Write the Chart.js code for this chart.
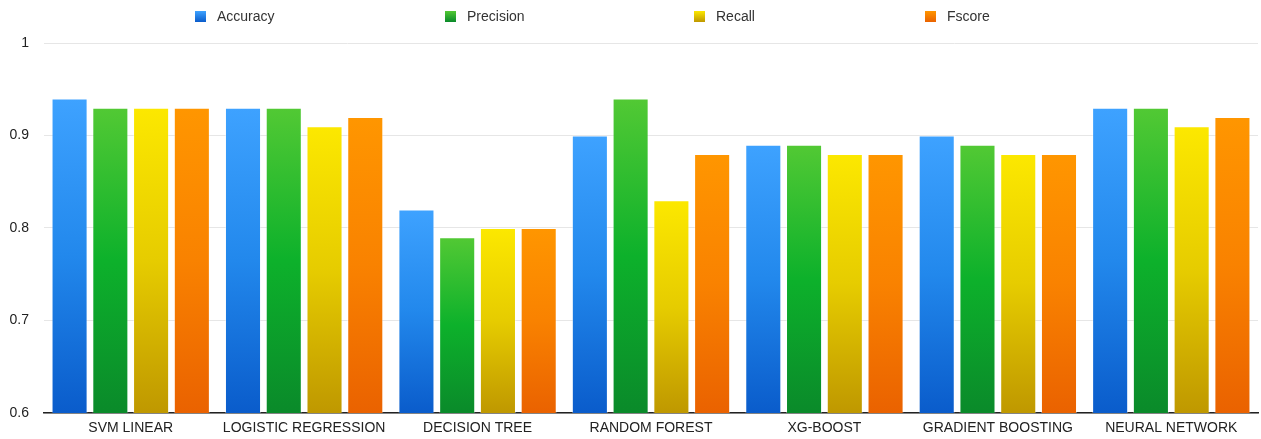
<!DOCTYPE html>
<html>
<head>
<meta charset="utf-8">
<script src="https://cdn.jsdelivr.net/npm/chart.js@4/dist/chart.umd.min.js"></script>
<style>
  html, body { margin: 0; padding: 0; background: #fff; }
  #wrap { width: 1261px; height: 439px; position: relative; }
</style>
</head>
<body>
<div id="wrap"><canvas id="c" width="1261" height="439"></canvas></div>
<script>
// Model comparison: four scores per classifier
const models = ['SVM LINEAR', 'LOGISTIC REGRESSION', 'DECISION TREE', 'RANDOM FOREST', 'XG-BOOST', 'GRADIENT BOOSTING', 'NEURAL NETWORK'];
const accuracy  = [0.94, 0.93, 0.82, 0.90, 0.89, 0.90, 0.93];
const precision = [0.93, 0.93, 0.79, 0.94, 0.89, 0.89, 0.93];
const recall    = [0.93, 0.91, 0.80, 0.83, 0.88, 0.88, 0.91];
const fscore    = [0.93, 0.92, 0.80, 0.88, 0.88, 0.88, 0.92];
const yTicks = [0.6, 0.7, 0.8, 0.9, 1];

// top / middle / bottom shades for each series
const palette = {
  Accuracy:  ['#3ea2ff', '#2288ec', '#0a5ccb'],
  Precision: ['#52c934', '#0db12b', '#0a8a2a'],
  Recall:    ['#fce800', '#e6cc00', '#bf9800'],
  Fscore:    ['#ff9600', '#f98200', '#ea6200']
};

function barGradient(name) {
  const stops = palette[name];
  return function (ctx) {
    const chart = ctx.chart;
    const y = chart.scales && chart.scales.y;
    if (!chart.chartArea || !y || ctx.type !== 'data') return stops[1];
    const top = y.getPixelForValue(ctx.raw);
    const bottom = y.getPixelForValue(y.min);
    const g = chart.ctx.createLinearGradient(0, top, 0, bottom);
    g.addColorStop(0, stops[0]);
    g.addColorStop(0.5, stops[1]);
    g.addColorStop(1, stops[2]);
    return g;
  };
}

function series(name, data) {
  return {
    label: name,
    data: data,
    backgroundColor: barGradient(name),
    borderColor: 'rgba(255,255,255,0.35)',
    borderWidth: 1,
    borderSkipped: 'bottom',
    categoryPercentage: 0.94,
    barPercentage: 0.885
  };
}

// Legend laid out across the top with fixed spacing
const topLegend = {
  id: 'topLegend',
  afterDraw(chart, args, opts) {
    const ctx = chart.ctx;
    ctx.save();
    ctx.font = '14px "Liberation Sans", Arial, sans-serif';
    ctx.textBaseline = 'middle';
    chart.data.datasets.forEach((ds, i) => {
      const x = opts.xs[i];
      const stops = palette[ds.label];
      const g = ctx.createLinearGradient(0, opts.y - 5, 0, opts.y + 6);
      g.addColorStop(0, stops[0]);
      g.addColorStop(1, stops[2]);
      ctx.fillStyle = g;
      ctx.fillRect(x, opts.y - 5, 11, 11);
      ctx.fillStyle = '#333';
      ctx.fillText(ds.label, x + 22, opts.y + 1);
    });
    ctx.restore();
  }
};

new Chart(document.getElementById('c'), {
  type: 'bar',
  data: {
    labels: models,
    datasets: [
      series('Accuracy', accuracy),
      series('Precision', precision),
      series('Recall', recall),
      series('Fscore', fscore)
    ]
  },
  options: {
    responsive: false,
    animation: false,
    layout: { padding: { top: 43, right: 3, bottom: 0, left: 0 } },
    plugins: {
      legend: { display: false },
      tooltip: { enabled: false },
      topLegend: { xs: [195, 445, 694, 925], y: 16 }
    },
    scales: {
      x: {
        afterFit(scale) { scale.height = 26; },
        grid: { display: false, drawTicks: false },
        border: { display: true, color: '#222', width: 1.5 },
        ticks: {
          color: '#222',
          font: { family: '"Liberation Sans", Arial, sans-serif', size: 14 },
          maxRotation: 0,
          autoSkip: false,
          padding: 7
        }
      },
      y: {
        min: 0.6,
        max: 1,
        afterFit(scale) { scale.width = 44; },
        afterBuildTicks(scale) { scale.ticks = yTicks.map(v => ({ value: v })); },
        grid: { color: '#e6e6e6', lineWidth: 1, drawTicks: false },
        border: { display: false },
        ticks: {
          color: '#222',
          font: { family: '"Liberation Sans", Arial, sans-serif', size: 14 },
          padding: 15,
          callback: v => String(+v.toFixed(1))
        }
      }
    }
  },
  plugins: [topLegend]
});
</script>
</body>
</html>
